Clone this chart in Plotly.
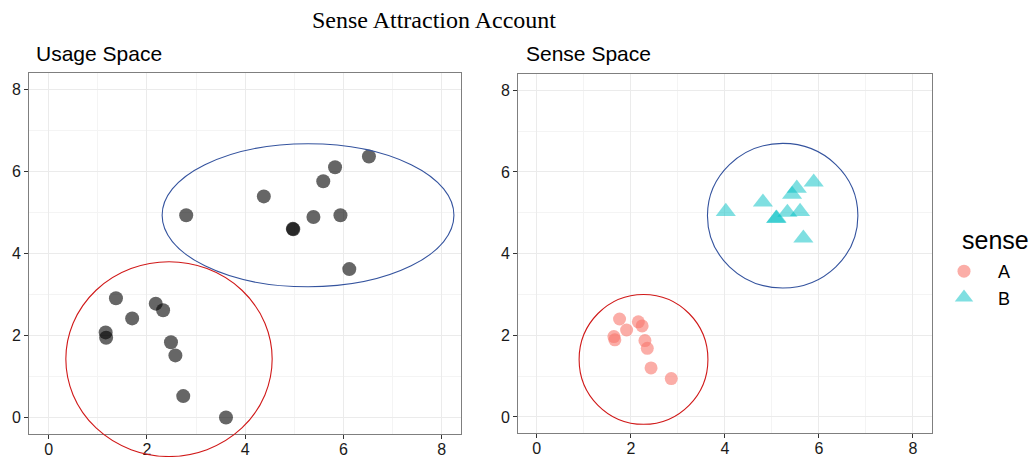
import plotly.graph_objects as go

# ---------------- data ----------------
usage_x_A = [1.37, 2.18, 2.33, 1.70, 1.16, 1.17, 2.49, 2.58, 2.74, 3.61]
usage_y_A = [2.91, 2.78, 2.62, 2.42, 2.08, 1.95, 1.84, 1.52, 0.53, 0.01]
usage_x_B = [2.80, 4.38, 5.59, 5.83, 6.52, 5.39, 5.94, 4.97, 4.98, 6.12]
usage_y_B = [4.93, 5.39, 5.76, 6.10, 6.36, 4.89, 4.93, 4.60, 4.59, 3.62]

sense_x_A = [1.76, 1.91, 2.16, 2.24, 1.64, 1.66, 2.30, 2.35, 2.43, 2.86]
sense_y_A = [2.40, 2.13, 2.33, 2.23, 1.97, 1.89, 1.87, 1.68, 1.20, 0.94]
sense_x_B = [4.02, 4.81, 5.53, 5.43, 5.89, 5.33, 5.60, 5.09, 5.10, 5.67]
sense_y_B = [5.03, 5.26, 5.60, 5.45, 5.75, 5.01, 5.03, 4.86, 4.87, 4.38]

# ellipses: panel, centre x, centre y, radius x, radius y, colour
ellipse_panel = ["usage", "usage", "sense", "sense"]
ellipse_cx = [2.45, 5.28, 2.27, 5.23]
ellipse_cy = [1.43, 4.93, 1.41, 4.93]
ellipse_rx = [2.10, 2.97, 1.37, 1.60]
ellipse_ry = [2.37, 1.74, 1.59, 1.77]
ellipse_col = ["#D01818", "#34539E", "#D01818", "#34539E"]

tick_vals = [0, 2, 4, 6, 8]
tick_text = ["0", "2", "4", "6", "8"]
axis_range = [-0.4, 8.4]

W, H = 1035, 457
# panel domains (paper fractions)
dom = {
    "usage": dict(x=[29 / W, 461.3 / W], y=[1 - 434.3 / H, 1 - 72.7 / H]),
    "sense": dict(x=[518 / W, 931.7 / W], y=[1 - 433.3 / H, 1 - 74 / H]),
}

fig = go.Figure()

fig.add_trace(go.Scatter(
    x=usage_x_A + usage_x_B, y=usage_y_A + usage_y_B, mode="markers",
    marker=dict(color="black", opacity=0.6, size=14, symbol="circle"),
    showlegend=False, xaxis="x", yaxis="y"))

fig.add_trace(go.Scatter(
    x=sense_x_A, y=sense_y_A, mode="markers", name="A", legendgroup="A",
    marker=dict(color="#F8766D", opacity=0.6, size=13, symbol="circle"),
    xaxis="x2", yaxis="y2"))
fig.add_trace(go.Scatter(
    x=sense_x_B, y=sense_y_B, mode="markers", name="B", legendgroup="B",
    marker=dict(color="#00BFC4", opacity=0.5, size=17.5, symbol="triangle-up"),
    xaxis="x2", yaxis="y2"))

grid_major = "#EBEBEB"
grid_minor = "#F4F4F4"
tick_font = dict(family="Liberation Sans, Arial, sans-serif", size=16, color="#1A1A1A")


def axis(domain, anchor, standoff=0):
    return dict(
        domain=domain, anchor=anchor, range=axis_range, automargin=False,
        tickmode="array", tickvals=tick_vals, ticktext=tick_text,
        ticks="outside", ticklen=4, tickcolor="#333333", tickwidth=1,
        tickfont=tick_font, ticklabelstandoff=standoff,
        showgrid=True, gridcolor=grid_major, gridwidth=1.1,
        minor=dict(tickmode="array", tickvals=[1, 3, 5, 7], showgrid=True,
                   gridcolor=grid_minor, gridwidth=0.6, ticks=""),
        zeroline=False, showline=True, mirror=True,
        linecolor="#7F7F7F", linewidth=1,
    )


fig.update_layout(
    width=W, height=H,
    margin=dict(l=0, r=0, t=0, b=0, autoexpand=False),
    paper_bgcolor="white", plot_bgcolor="white",
    xaxis=axis(dom["usage"]["x"], "y", -4),
    yaxis=axis(dom["usage"]["y"], "x"),
    xaxis2=axis(dom["sense"]["x"], "y2", -4),
    yaxis2=axis(dom["sense"]["y"], "x2"),
    legend=dict(x=930 / W, y=1 - 253 / H, xanchor="left", yanchor="top",
                itemwidth=58, tracegroupgap=0,
                font=dict(family="Liberation Sans, Arial, sans-serif", size=18, color="black"),
                bgcolor="rgba(0,0,0,0)"),
    showlegend=True,
)

# ellipses, converted from data units through each panel's range/domain
for p, cx, cy, rx, ry, col in zip(ellipse_panel, ellipse_cx, ellipse_cy,
                                  ellipse_rx, ellipse_ry, ellipse_col):
    dx, dy = dom[p]["x"], dom[p]["y"]
    span = axis_range[1] - axis_range[0]

    def px(v):
        return dx[0] + (v - axis_range[0]) / span * (dx[1] - dx[0])

    def py(v):
        return dy[0] + (v - axis_range[0]) / span * (dy[1] - dy[0])

    fig.add_shape(type="circle", xref="paper", yref="paper",
                  x0=px(cx - rx), x1=px(cx + rx), y0=py(cy - ry), y1=py(cy + ry),
                  line=dict(color=col, width=1.1), fillcolor="rgba(0,0,0,0)")

sans = "Liberation Sans, Arial, sans-serif"
fig.add_annotation(text="Sense Attraction Account", xref="paper", yref="paper",
                   x=433.7 / W, y=1 - 20 / H, xanchor="center", yanchor="middle",
                   showarrow=False,
                   font=dict(family="Liberation Serif, Times New Roman, serif", size=24, color="black"))
fig.add_annotation(text="Usage Space", xref="paper", yref="paper",
                   x=34 / W, y=1 - 53 / H, xanchor="left", yanchor="middle",
                   showarrow=False, font=dict(family=sans, size=21, color="black"))
fig.add_annotation(text="Sense Space", xref="paper", yref="paper",
                   x=524 / W, y=1 - 53 / H, xanchor="left", yanchor="middle",
                   showarrow=False, font=dict(family=sans, size=21, color="black"))
fig.add_annotation(text="sense", xref="paper", yref="paper",
                   x=960 / W, y=1 - 240 / H, xanchor="left", yanchor="middle",
                   showarrow=False, font=dict(family=sans, size=25, color="black"))

fig.write_html("out.html")
